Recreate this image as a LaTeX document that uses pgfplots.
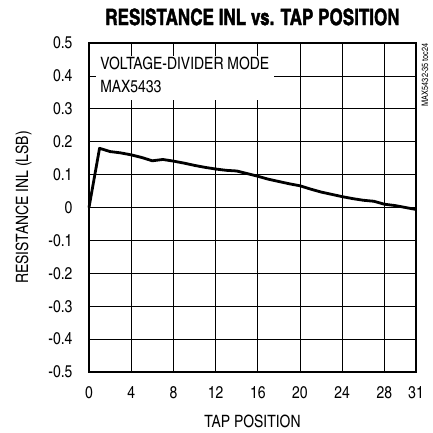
\documentclass[border=0pt]{standalone}
\usepackage{fontspec}
\setmainfont{texgyreheroscn}[Extension=.otf, UprightFont=*-regular, BoldFont=*-bold, ItalicFont=*-italic, BoldItalicFont=*-bolditalic]
\newfontfamily\titlefont{texgyreheroscn}[Extension=.otf, UprightFont=*-bold, FakeBold=1.5, FakeStretch=0.92]
\usepackage{graphicx}
\usepackage{pgfplots}
\pgfplotsset{compat=1.18}
\newcommand{\lf}{\fontsize{17}{18.5}\selectfont}
\begin{document}
\begin{tikzpicture}
\useasboundingbox (-89pt,-61pt) rectangle (343pt,372pt);
\begin{axis}[
  at={(0,0)}, anchor=south west,
  scale only axis,
  width=327pt, height=329pt,
  xmin=0, xmax=31, ymin=-0.5, ymax=0.5,
  xtick={0,4,8,12,16,20,24,28,31},
  ytick={-0.5,-0.4,-0.3,-0.2,-0.1,0,0.1,0.2,0.3,0.4,0.5},
  yticklabels={-0.5,-0.4,-0.3,-0.2,-0.1,0,0.1,0.2,0.3,0.4,0.5},
  /pgf/number format/assume math mode=true,
  tick label style={font=\lf},
  label style={font=\lf},
  tick align=inside, tick pos=both,
  major tick length=5pt,
  tick style={black, line width=0.8pt},
  grid=major,
  grid style={black, line width=0.8pt},
  axis line style={black, line width=2.2pt},
  xticklabel style={yshift=-11pt},
  yticklabel style={xshift=-13pt},
  xlabel={TAP POSITION},
  ylabel={\rotatebox{90}{RESISTANCE INL (LSB)}},
  xlabel style={yshift=-9pt},
  ylabel style={rotate=-90, xshift=-10pt},
  title={\titlefont\fontsize{22.6}{25}\selectfont RESISTANCE INL vs. TAP POSITION},
  title style={yshift=8pt},
  clip=false,
]
\addplot[black, line width=2.8pt, line join=round] coordinates {
(0,0) (1,0.18) (2,0.17) (3,0.166) (4,0.16) (5,0.152) (6,0.142) (7,0.146)
(8,0.141) (9,0.135) (10,0.128) (11,0.122) (12,0.117) (13,0.113) (14,0.111)
(15,0.103) (16,0.095) (17,0.086) (18,0.079) (19,0.072) (20,0.066) (21,0.056)
(22,0.047) (23,0.040) (24,0.033) (25,0.027) (26,0.022) (27,0.019) (28,0.010)
(29,0.006) (30,0.0) (31,-0.006)
};
\node[fill=white, anchor=north west, inner sep=0pt, minimum width=178pt, minimum height=44pt] at (axis cs:0.6,0.462) {};
\node[anchor=north west, align=left, font=\lf, inner sep=0pt] at (axis cs:1.05,0.457) {VOLTAGE-DIVIDER MODE\\[4pt]MAX5433};
\node[anchor=north, inner sep=0pt, font=\fontsize{9}{10}\selectfont] at ([xshift=9pt]rel axis cs:1,1) {\rotatebox{90}{MAX5432-35 toc24}};
\end{axis}
\end{tikzpicture}
\end{document}
